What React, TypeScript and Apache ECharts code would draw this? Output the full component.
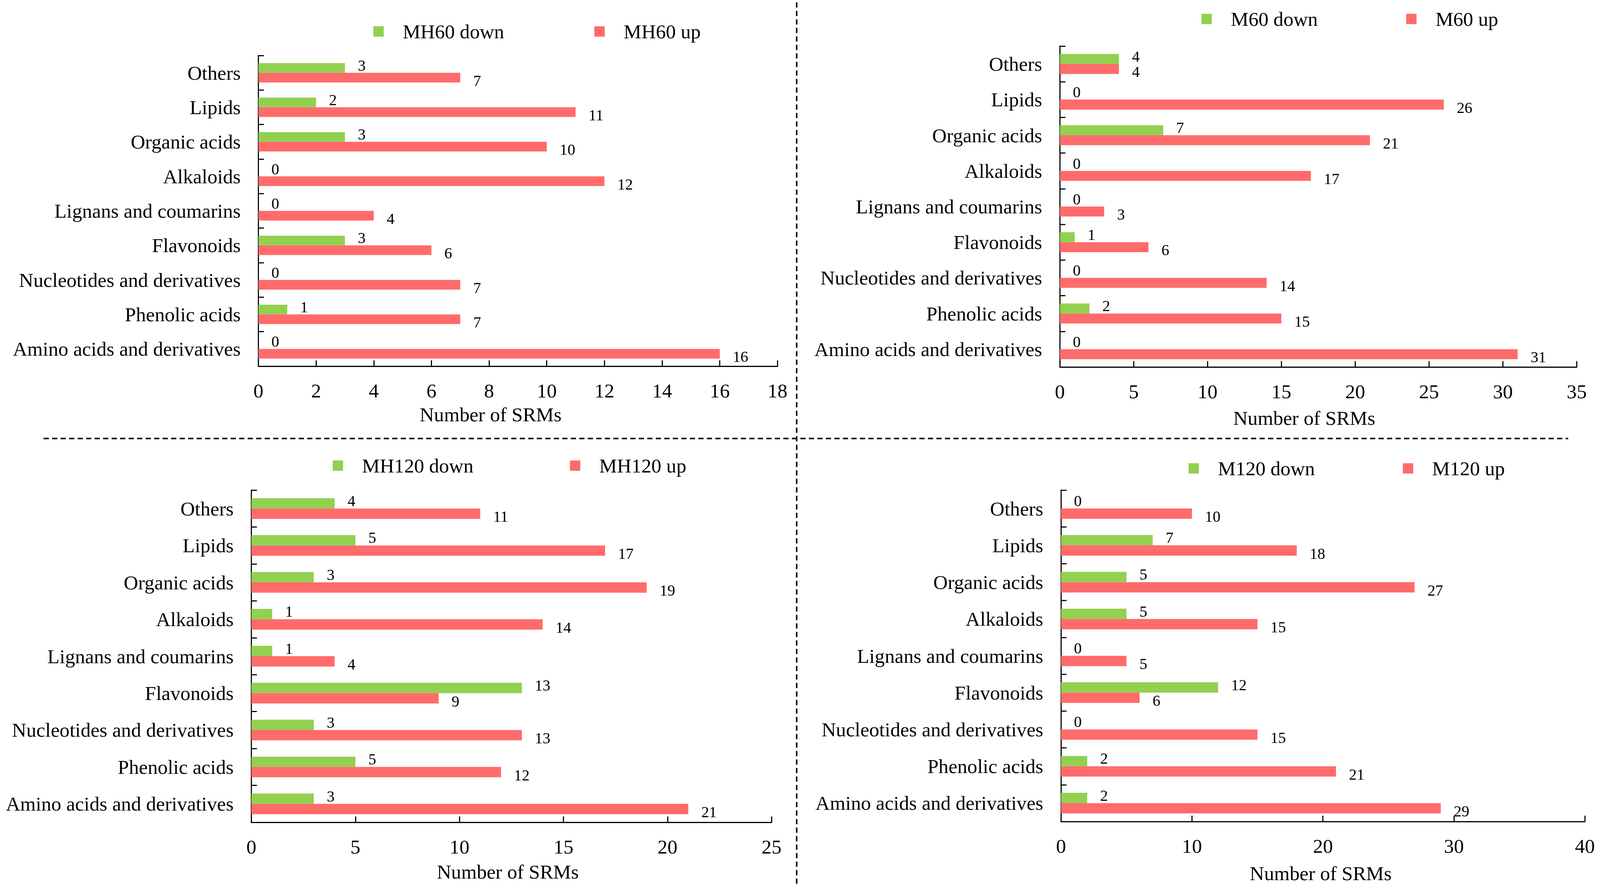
import React, { useEffect, useRef } from "react";
import * as echarts from "echarts";

// Categories listed bottom -> top (ECharts category y-axis starts at the bottom)
const categories = [
  "Amino acids and derivatives",
  "Phenolic acids",
  "Nucleotides and derivatives",
  "Flavonoids",
  "Lignans and coumarins",
  "Alkaloids",
  "Organic acids",
  "Lipids",
  "Others",
];

const mh60Down = [0, 1, 0, 3, 0, 0, 3, 2, 3];
const mh60Up = [16, 7, 7, 6, 4, 12, 10, 11, 7];
const m60Down = [0, 2, 0, 1, 0, 0, 7, 0, 4];
const m60Up = [31, 15, 14, 6, 3, 17, 21, 26, 4];
const mh120Down = [3, 5, 3, 13, 1, 1, 3, 5, 4];
const mh120Up = [21, 12, 13, 9, 4, 14, 19, 17, 11];
const m120Down = [2, 2, 0, 12, 0, 5, 5, 7, 0];
const m120Up = [29, 21, 15, 6, 5, 15, 27, 18, 10];

const axisTitle = "Number of SRMs";

const GREEN = "#92D050";
const RED = "#FF6B6B";
const FONT = "'Liberation Serif', 'Times New Roman', serif";

// design size
const DW = 4328;
const DH = 2267;

const panels = [
  {
    downName: "MH60 down", upName: "MH60 up", down: mh60Down, up: mh60Up,
    max: 18, interval: 2,
    grid: { left: 699, right: 2225, top: 142, bottom: 1330 },
    legend: { left: 1010, top: 55, itemGap: 244 },
    nameGap: 98, namePad: 148,
  },
  {
    downName: "M60 down", upName: "M60 up", down: m60Down, up: m60Up,
    max: 35, interval: 5,
    grid: { left: 2867, right: 63, top: 118, bottom: 1328 },
    legend: { left: 3250, top: 23, itemGap: 239 },
    nameGap: 105, namePad: 76,
  },
  {
    downName: "MH120 down", upName: "MH120 up", down: mh120Down, up: mh120Up,
    max: 25, interval: 5,
    grid: { left: 680, right: 2241, top: 1254, bottom: 163 },
    legend: { left: 900, top: 1166, itemGap: 261 },
    nameGap: 101, namePad: 20,
  },
  {
    downName: "M120 down", upName: "M120 up", down: m120Down, up: m120Up,
    max: 40, interval: 10,
    grid: { left: 2870, right: 41, top: 1254, bottom: 165 },
    legend: { left: 3215, top: 1173, itemGap: 238 },
    nameGap: 107, namePad: 12,
  },
];

function buildOption(W: number, H: number) {
  const sx = W / DW;
  const sy = H / DH;
  const sf = Math.min(sx, sy);
  const X = (v: number) => v * sx;
  const Y = (v: number) => v * sy;
  const F = (v: number) => v * sf;

  const grid: any[] = [];
  const xAxis: any[] = [];
  const yAxis: any[] = [];
  const series: any[] = [];
  const legend: any[] = [];

  panels.forEach((p, i) => {
    grid.push({
      left: X(p.grid.left),
      right: X(p.grid.right),
      top: Y(p.grid.top),
      bottom: Y(p.grid.bottom),
      containLabel: false,
    });
    xAxis.push({
      type: "value",
      gridIndex: i,
      min: 0,
      max: p.max,
      interval: p.interval,
      name: axisTitle,
      nameLocation: "middle",
      nameGap: Y(p.nameGap),
      nameTextStyle: {
        fontFamily: FONT,
        fontSize: F(54),
        color: "#000",
        padding: [0, X(p.namePad), 0, 0],
      },
      axisLine: { show: true, lineStyle: { color: "#000", width: F(3) } },
      axisTick: { show: true, inside: true, length: Y(15), lineStyle: { color: "#000", width: F(3) } },
      axisLabel: { fontFamily: FONT, fontSize: F(54), color: "#000", margin: Y(37) },
      splitLine: { show: false },
    });
    yAxis.push({
      type: "category",
      gridIndex: i,
      data: categories,
      axisLine: { show: true, lineStyle: { color: "#000", width: F(3) } },
      axisTick: { show: true, inside: true, length: X(15), lineStyle: { color: "#000", width: F(3) } },
      axisLabel: { fontFamily: FONT, fontSize: F(54), color: "#000", margin: X(48), interval: 0 },
      splitLine: { show: false },
    });
    const labelBase = {
      show: true,
      position: "right",
      distance: X(35),
      fontFamily: FONT,
      fontSize: F(42),
      lineHeight: F(32),
      color: "#000",
    };
    series.push({
      type: "bar",
      name: p.downName,
      xAxisIndex: i,
      yAxisIndex: i,
      data: p.down,
      barWidth: "28%",
      barGap: "0%",
      itemStyle: { color: GREEN },
      label: { ...labelBase, offset: [0, -Y(6)] },
    });
    series.push({
      type: "bar",
      name: p.upName,
      xAxisIndex: i,
      yAxisIndex: i,
      data: p.up,
      barWidth: "28%",
      barGap: "0%",
      itemStyle: { color: RED },
      label: { ...labelBase, offset: [0, Y(8)] },
    });
    legend.push({
      data: [p.downName, p.upName],
      left: X(p.legend.left),
      top: Y(p.legend.top),
      itemGap: X(p.legend.itemGap),
      orient: "horizontal",
      padding: 0,
      icon: "rect",
      itemWidth: F(28),
      itemHeight: F(28),
      selectedMode: false,
      textStyle: {
        fontFamily: FONT,
        fontSize: F(54),
        color: "#000",
        padding: [0, 0, 0, X(46)],
      },
    });
  });

  return {
    animation: false,
    backgroundColor: "#fff",
    textStyle: { fontFamily: FONT },
    grid,
    xAxis,
    yAxis,
    series,
    legend,
    graphic: [
      {
        type: "line",
        shape: { x1: X(2155), y1: Y(6), x2: X(2155), y2: Y(2262) },
        style: { stroke: "#000", lineWidth: F(4), lineDash: [F(14), F(9)] },
        silent: true,
      },
      {
        type: "line",
        shape: { x1: X(118), y1: Y(1122), x2: X(4242), y2: Y(1122) },
        style: { stroke: "#000", lineWidth: F(4), lineDash: [F(14), F(9)] },
        silent: true,
      },
    ],
  };
}

export default function App() {
  const ref = useRef<HTMLDivElement>(null);
  useEffect(() => {
    const el = ref.current;
    if (!el) return;
    const W = el.clientWidth || DW;
    const H = el.clientHeight || DH;
    const chart = echarts.init(el, undefined, { renderer: "svg", width: W, height: H });
    chart.setOption(buildOption(W, H) as any);
    return () => {
      chart.dispose();
    };
  }, []);
  return (
    <div
      ref={ref}
      style={{
        position: "fixed",
        left: 0,
        top: 0,
        width: "100vw",
        height: "100vh",
        background: "#fff",
        overflow: "hidden",
      }}
    />
  );
}
